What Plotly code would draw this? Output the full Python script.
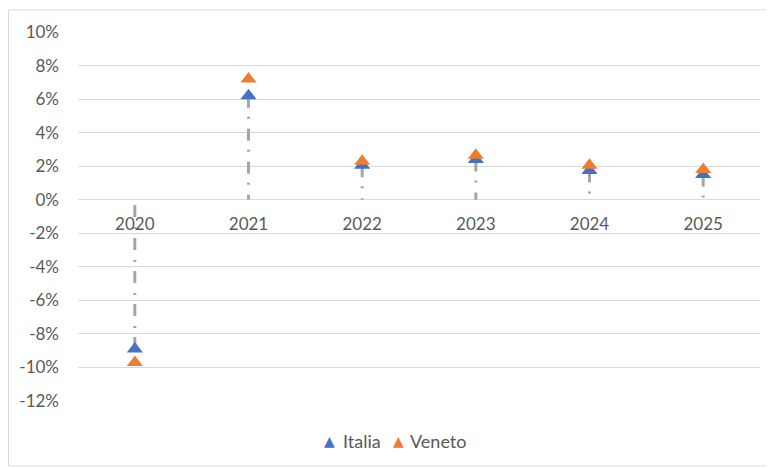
import plotly.graph_objects as go

years = ["2020", "2021", "2022", "2023", "2024", "2025"]
italia = [-8.9, 6.2, 2.05, 2.4, 1.75, 1.5]
veneto = [-9.7, 7.2, 2.3, 2.65, 2.05, 1.8]
y_ticks = [10, 8, 6, 4, 2, 0, -2, -4, -6, -8, -10, -12]
y_tick_text = [f"{v}%" for v in y_ticks]
series_names = ["Italia", "Veneto"]
series_colors = ["#4472C4", "#ED7D31"]

# drop lines from Italia value to zero
dx, dy = [], []
for yr, v in zip(years, italia):
    dx += [yr, yr, None]
    dy += [v, 0, None]

FONT = "Lato"
FS = 17
L, T, W, H = 70, 24, 682, 369
fig = go.Figure()
fig.add_trace(go.Scatter(x=dx, y=dy, mode="lines", showlegend=False, hoverinfo="skip",
                         line=dict(color="#A5A5A5", width=3, dash="12px,9px,2px,10px")))
for name, vals, col in zip(series_names, [italia, veneto], series_colors):
    fig.add_trace(go.Scatter(x=years, y=vals, mode="markers", name=name, showlegend=False,
                             marker=dict(symbol="triangle-up", size=14, color=col)))

# legend built as annotations (pixel positions in figure coordinates)
leg_y = (T + H - 433) / H
sym_x = [321, 390]
txt_x = [333, 400]
annotations = []
for n, c, sx, tx in zip(series_names, series_colors, sym_x, txt_x):
    annotations.append(dict(text="▲", xref="paper", yref="paper", x=(sx - L) / W, y=leg_y,
                            xanchor="center", yanchor="middle", showarrow=False,
                            font=dict(family="DejaVu Sans", size=14, color=c)))
    annotations.append(dict(text=n, xref="paper", yref="paper", x=(tx - L) / W, y=leg_y,
                            xanchor="left", yanchor="middle", showarrow=False,
                            font=dict(family=FONT, size=18, color="#595959")))

fig.update_layout(
    width=774, height=468,
    margin=dict(l=L, r=774 - L - W, t=T, b=468 - T - H),
    paper_bgcolor="white", plot_bgcolor="white",
    font=dict(family=FONT, size=FS, color="#595959"),
    showlegend=False,
    xaxis=dict(type="category", range=[-0.5, 5.5], showgrid=False, zeroline=False,
               showline=False, anchor="free", position=12/22, ticks="",
               ticklabelstandoff=12, tickfont=dict(size=FS, color="#595959")),
    yaxis=dict(range=[-12, 10], tickvals=y_ticks, ticktext=y_tick_text,
               showgrid=True, gridcolor="#D9D9D9", gridwidth=1, zeroline=True,
               zerolinecolor="#D9D9D9", zerolinewidth=1, showline=False, ticks="",
               ticklabelstandoff=18, tickfont=dict(size=FS, color="#595959")),
    annotations=annotations,
    shapes=[dict(type="rect", xref="paper", yref="paper",
                 x0=(0.5 - L) / W, x1=(763 - L) / W,
                 y0=(T + H - 458) / H, y1=1 + (T - 2) / H,
                 line=dict(color="#D9D9D9", width=1), fillcolor="rgba(0,0,0,0)", layer="below")],
)
fig.write_html("out.html")
